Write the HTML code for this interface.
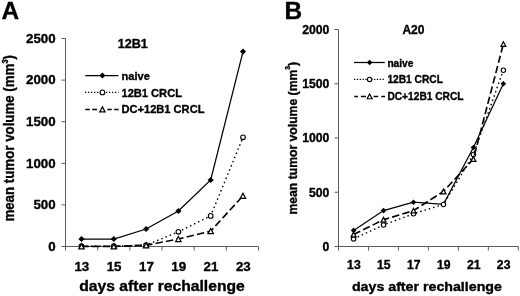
<!DOCTYPE html>
<html><head><meta charset="utf-8"><title>chart</title>
<style>
html,body{margin:0;padding:0;background:#fff;}
body{width:520px;height:296px;overflow:hidden;}
svg{display:block;filter:grayscale(1);}
text{font-family:"Liberation Sans",sans-serif;font-weight:bold;fill:#000;stroke:#000;stroke-width:0.35px;stroke-linejoin:round;}
</style></head><body>
<svg width="520" height="296" viewBox="0 0 520 296">
<rect width="520" height="296" fill="#fff"/>
<g>
<text x="1.6" y="19.0" font-size="24.4" stroke-width="0.2">A</text>
<text x="284.4" y="19.0" font-size="24.4" stroke-width="0.2">B</text>
<path d="M65.5,38.5 V250.5 M61.5,246.5 H258.5" fill="none" stroke="#5c5c5c" stroke-width="1"/>
<text x="55.6" y="251.00" text-anchor="end" font-size="13.3">0</text>
<path d="M61.5,204.90 H65.5" stroke="#5c5c5c" stroke-width="1"/>
<text x="55.6" y="209.00" text-anchor="end" font-size="13.3">500</text>
<path d="M61.5,163.30 H65.5" stroke="#5c5c5c" stroke-width="1"/>
<text x="55.6" y="168.00" text-anchor="end" font-size="13.3">1000</text>
<path d="M61.5,121.70 H65.5" stroke="#5c5c5c" stroke-width="1"/>
<text x="55.6" y="126.00" text-anchor="end" font-size="13.3">1500</text>
<path d="M61.5,80.10 H65.5" stroke="#5c5c5c" stroke-width="1"/>
<text x="55.6" y="84.00" text-anchor="end" font-size="13.3">2000</text>
<path d="M61.5,38.50 H65.5" stroke="#5c5c5c" stroke-width="1"/>
<text x="55.6" y="43.00" text-anchor="end" font-size="13.3">2500</text>
<path d="M97.67,246.5 V250.5" stroke="#5c5c5c" stroke-width="1"/>
<path d="M129.83,246.5 V250.5" stroke="#5c5c5c" stroke-width="1"/>
<path d="M162.00,246.5 V250.5" stroke="#5c5c5c" stroke-width="1"/>
<path d="M194.17,246.5 V250.5" stroke="#5c5c5c" stroke-width="1"/>
<path d="M226.33,246.5 V250.5" stroke="#5c5c5c" stroke-width="1"/>
<path d="M258.50,246.5 V250.5" stroke="#5c5c5c" stroke-width="1"/>
<text x="81.80" y="271.0" text-anchor="middle" font-size="13.3">13</text>
<text x="114.10" y="271.0" text-anchor="middle" font-size="13.3">15</text>
<text x="146.40" y="271.0" text-anchor="middle" font-size="13.3">17</text>
<text x="178.70" y="271.0" text-anchor="middle" font-size="13.3">19</text>
<text x="211.00" y="271.0" text-anchor="middle" font-size="13.3">21</text>
<text x="243.30" y="271.0" text-anchor="middle" font-size="13.3">23</text>
<polyline points="81.50,239.00 113.80,239.00 146.10,229.00 178.40,211.00 210.70,180.00 243.00,51.60" fill="none" stroke="#000" stroke-width="1.25"/>
<path d="M78.40,239.00 L81.50,235.90 L84.60,239.00 L81.50,242.10Z" fill="#000"/>
<path d="M110.70,239.00 L113.80,235.90 L116.90,239.00 L113.80,242.10Z" fill="#000"/>
<path d="M143.00,229.00 L146.10,225.90 L149.20,229.00 L146.10,232.10Z" fill="#000"/>
<path d="M175.30,211.00 L178.40,207.90 L181.50,211.00 L178.40,214.10Z" fill="#000"/>
<path d="M207.60,180.00 L210.70,176.90 L213.80,180.00 L210.70,183.10Z" fill="#000"/>
<path d="M239.90,51.60 L243.00,48.50 L246.10,51.60 L243.00,54.70Z" fill="#000"/>
<polyline points="81.50,246.20 113.80,246.20 146.10,245.10 178.40,231.80 210.70,215.90 243.00,137.30" fill="none" stroke="#000" stroke-width="1.4" stroke-dasharray="1.5 3.0"/>
<circle cx="81.50" cy="246.20" r="2.35" fill="#fff" stroke="#000" stroke-width="1.1"/>
<circle cx="113.80" cy="246.20" r="2.35" fill="#fff" stroke="#000" stroke-width="1.1"/>
<circle cx="146.10" cy="245.10" r="2.35" fill="#fff" stroke="#000" stroke-width="1.1"/>
<circle cx="178.40" cy="231.80" r="2.35" fill="#fff" stroke="#000" stroke-width="1.1"/>
<circle cx="210.70" cy="215.90" r="2.35" fill="#fff" stroke="#000" stroke-width="1.1"/>
<circle cx="243.00" cy="137.30" r="2.35" fill="#fff" stroke="#000" stroke-width="1.1"/>
<polyline points="81.50,246.40 113.80,246.40 146.10,245.30 178.40,239.00 210.70,231.10 243.00,195.80" fill="none" stroke="#000" stroke-width="1.65" stroke-dasharray="7.4 3.2"/>
<path d="M78.80,248.95 L81.50,243.85 L84.20,248.95Z" fill="#fff" stroke="#000" stroke-width="1.2" stroke-linejoin="miter"/>
<path d="M111.10,248.95 L113.80,243.85 L116.50,248.95Z" fill="#fff" stroke="#000" stroke-width="1.2" stroke-linejoin="miter"/>
<path d="M143.40,247.85 L146.10,242.75 L148.80,247.85Z" fill="#fff" stroke="#000" stroke-width="1.2" stroke-linejoin="miter"/>
<path d="M175.70,241.55 L178.40,236.45 L181.10,241.55Z" fill="#fff" stroke="#000" stroke-width="1.2" stroke-linejoin="miter"/>
<path d="M208.00,233.65 L210.70,228.55 L213.40,233.65Z" fill="#fff" stroke="#000" stroke-width="1.2" stroke-linejoin="miter"/>
<path d="M240.30,198.35 L243.00,193.25 L245.70,198.35Z" fill="#fff" stroke="#000" stroke-width="1.2" stroke-linejoin="miter"/>
<path d="M338.5,29.5 V250.5 M334.5,246.5 H518.3" fill="none" stroke="#5c5c5c" stroke-width="1"/>
<text x="329.4" y="250.90" text-anchor="end" font-size="12.2">0</text>
<path d="M334.5,192.25 H338.5" stroke="#5c5c5c" stroke-width="1"/>
<text x="329.4" y="196.65" text-anchor="end" font-size="12.2">500</text>
<path d="M334.5,138.00 H338.5" stroke="#5c5c5c" stroke-width="1"/>
<text x="329.4" y="142.40" text-anchor="end" font-size="12.2">1000</text>
<path d="M334.5,83.75 H338.5" stroke="#5c5c5c" stroke-width="1"/>
<text x="329.4" y="88.15" text-anchor="end" font-size="12.2">1500</text>
<path d="M334.5,29.50 H338.5" stroke="#5c5c5c" stroke-width="1"/>
<text x="329.4" y="33.90" text-anchor="end" font-size="12.2">2000</text>
<path d="M368.47,246.5 V250.5" stroke="#5c5c5c" stroke-width="1"/>
<path d="M398.43,246.5 V250.5" stroke="#5c5c5c" stroke-width="1"/>
<path d="M428.40,246.5 V250.5" stroke="#5c5c5c" stroke-width="1"/>
<path d="M458.37,246.5 V250.5" stroke="#5c5c5c" stroke-width="1"/>
<path d="M488.33,246.5 V250.5" stroke="#5c5c5c" stroke-width="1"/>
<path d="M518.30,246.5 V250.5" stroke="#5c5c5c" stroke-width="1"/>
<text x="353.90" y="268.75" text-anchor="middle" font-size="12.2">13</text>
<text x="383.85" y="268.75" text-anchor="middle" font-size="12.2">15</text>
<text x="413.80" y="268.75" text-anchor="middle" font-size="12.2">17</text>
<text x="443.75" y="268.75" text-anchor="middle" font-size="12.2">19</text>
<text x="473.70" y="268.75" text-anchor="middle" font-size="12.2">21</text>
<text x="503.65" y="268.75" text-anchor="middle" font-size="12.2">23</text>
<polyline points="353.60,230.40 383.55,210.60 413.50,202.25 443.45,204.40 473.40,147.50 503.35,83.75" fill="none" stroke="#000" stroke-width="1.25"/>
<path d="M350.80,230.40 L353.60,227.60 L356.40,230.40 L353.60,233.20Z" fill="#000"/>
<path d="M380.75,210.60 L383.55,207.80 L386.35,210.60 L383.55,213.40Z" fill="#000"/>
<path d="M410.70,202.25 L413.50,199.45 L416.30,202.25 L413.50,205.05Z" fill="#000"/>
<path d="M440.65,204.40 L443.45,201.60 L446.25,204.40 L443.45,207.20Z" fill="#000"/>
<path d="M470.60,147.50 L473.40,144.70 L476.20,147.50 L473.40,150.30Z" fill="#000"/>
<path d="M500.55,83.75 L503.35,80.95 L506.15,83.75 L503.35,86.55Z" fill="#000"/>
<polyline points="353.60,238.90 383.55,225.00 413.50,213.75 443.45,204.50 473.40,154.50 503.35,70.25" fill="none" stroke="#000" stroke-width="1.4" stroke-dasharray="1.5 3.0"/>
<circle cx="353.60" cy="238.90" r="2.2" fill="#fff" stroke="#000" stroke-width="1.1"/>
<circle cx="383.55" cy="225.00" r="2.2" fill="#fff" stroke="#000" stroke-width="1.1"/>
<circle cx="413.50" cy="213.75" r="2.2" fill="#fff" stroke="#000" stroke-width="1.1"/>
<circle cx="443.45" cy="204.50" r="2.2" fill="#fff" stroke="#000" stroke-width="1.1"/>
<circle cx="473.40" cy="154.50" r="2.2" fill="#fff" stroke="#000" stroke-width="1.1"/>
<circle cx="503.35" cy="70.25" r="2.2" fill="#fff" stroke="#000" stroke-width="1.1"/>
<polyline points="353.60,234.50 383.55,219.75 413.50,210.60 443.45,191.50 473.40,159.00 503.35,44.10" fill="none" stroke="#000" stroke-width="1.65" stroke-dasharray="7.4 3.2"/>
<path d="M351.10,236.85 L353.60,232.15 L356.10,236.85Z" fill="#fff" stroke="#000" stroke-width="1.2" stroke-linejoin="miter"/>
<path d="M381.05,222.10 L383.55,217.40 L386.05,222.10Z" fill="#fff" stroke="#000" stroke-width="1.2" stroke-linejoin="miter"/>
<path d="M411.00,212.95 L413.50,208.25 L416.00,212.95Z" fill="#fff" stroke="#000" stroke-width="1.2" stroke-linejoin="miter"/>
<path d="M440.95,193.85 L443.45,189.15 L445.95,193.85Z" fill="#fff" stroke="#000" stroke-width="1.2" stroke-linejoin="miter"/>
<path d="M470.90,161.35 L473.40,156.65 L475.90,161.35Z" fill="#fff" stroke="#000" stroke-width="1.2" stroke-linejoin="miter"/>
<path d="M500.85,46.45 L503.35,41.75 L505.85,46.45Z" fill="#fff" stroke="#000" stroke-width="1.2" stroke-linejoin="miter"/>
<text x="132.7" y="48.4" text-anchor="middle" font-size="12.6">12B1</text>
<text x="413.4" y="34.3" text-anchor="middle" font-size="12">A20</text>
<path d="M85.25,75.5 H118.5" stroke="#000" stroke-width="1.25"/><path d="M99.30,75.50 L102.40,72.40 L105.50,75.50 L102.40,78.60Z" fill="#000"/>
<text x="121.5" y="79.6" font-size="11.1">naive</text>
<path d="M85,92.4 H118.5" stroke="#000" stroke-width="1.2" stroke-dasharray="1.3 1.7"/><circle cx="102.40" cy="92.40" r="2.35" fill="#fff" stroke="#000" stroke-width="1.1"/>
<text x="121.5" y="96.6" font-size="11.1">12B1 CRCL</text>
<path d="M85.3,109.4 H89.8 M92.2,109.4 H97.1 M107.3,109.4 H111.8 M114.2,109.4 H118.6" stroke="#000" stroke-width="1.5"/><path d="M99.70,111.95 L102.40,106.85 L105.10,111.95Z" fill="#fff" stroke="#000" stroke-width="1.2" stroke-linejoin="miter"/>
<text x="121.5" y="113.4" font-size="11.1">DC+12B1 CRCL</text>
<path d="M354.0,62.5 H384.75" stroke="#000" stroke-width="1.25"/><path d="M366.80,62.50 L369.60,59.70 L372.40,62.50 L369.60,65.30Z" fill="#000"/>
<text x="387.4" y="66.7" font-size="10.2">naive</text>
<path d="M354,79.4 H384.75" stroke="#000" stroke-width="1.2" stroke-dasharray="1.3 1.55"/><circle cx="369.60" cy="79.40" r="2.2" fill="#fff" stroke="#000" stroke-width="1.1"/>
<text x="387.4" y="83.2" font-size="10.2">12B1 CRCL</text>
<path d="M354.3,96.4 H357.9 M360.9,96.4 H366.0 M373.6,96.4 H378.2 M381.3,96.4 H385.0" stroke="#000" stroke-width="1.5"/><path d="M367.10,98.75 L369.60,94.05 L372.10,98.75Z" fill="#fff" stroke="#000" stroke-width="1.2" stroke-linejoin="miter"/>
<text x="387.4" y="99.7" font-size="10.2">DC+12B1 CRCL</text>
<text transform="translate(162,290.8) scale(1.09,1)" text-anchor="middle" font-size="14.4">days after rechallenge</text>
<text transform="translate(426.9,291.3) scale(1.11,1)" text-anchor="middle" font-size="12.8">days after rechallenge</text>
<text transform="translate(14.0,138.3) rotate(-90) scale(1,1.1)" text-anchor="middle" font-size="13.3">mean tumor volume (mm<tspan dy="-5.72" font-size="7.45">3</tspan><tspan dy="5.72">)</tspan></text>
<text transform="translate(297.4,138.2) rotate(-90) scale(1,1.12)" text-anchor="middle" font-size="12.2">mean tumor volume (mm<tspan dy="-6.83" font-size="6.83">3</tspan><tspan dy="6.83">)</tspan></text>
</g>
</svg>
</body></html>
